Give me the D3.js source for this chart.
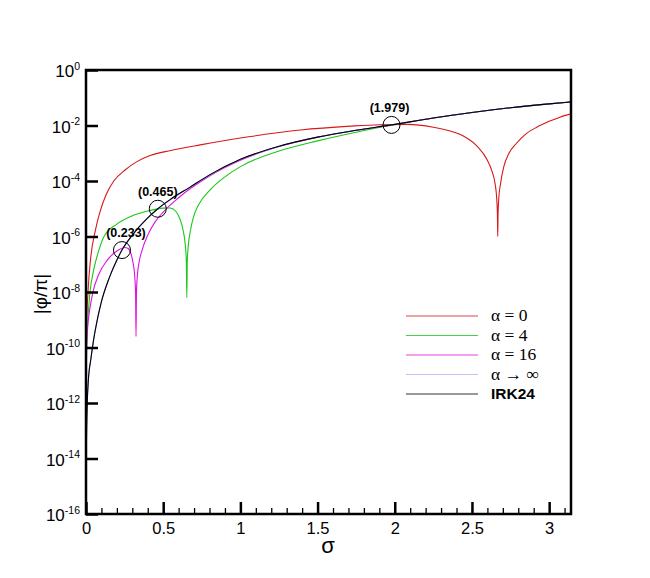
<!DOCTYPE html>
<html>
<head>
<meta charset="utf-8">
<script src="https://cdnjs.cloudflare.com/ajax/libs/d3/7.8.5/d3.min.js"></script>
<style>
  body { margin: 0; background: #fff; }
</style>
</head>
<body>
<div id="chart"></div>
<script>
// DATA

// alpha = 0
var redSigma = [0.001, 0.004, 0.013, 0.03, 0.06, 0.091, 0.13, 0.18, 0.253, 0.33, 0.415, 0.55, 0.74, 1.064, 1.389, 1.714, 1.9, 2.08, 2.25, 2.36, 2.45, 2.534, 2.6, 2.63, 2.65, 2.66, 2.665, 2.667, 2.669, 2.674, 2.685, 2.706, 2.74, 2.79, 2.85, 2.92, 3.0, 3.07, 3.1416];
var redPhi = [1e-11, 6.3e-10, 1e-8, 1.6e-7, 1.6e-6, 7.9e-6, 3.2e-5, 1e-4, 2.5e-4, 5e-4, 8.3e-4, 1.26e-3, 2.0e-3, 4.0e-3, 6.9e-3, 9.5e-3, 1.07e-2, 1.1e-2, 8.7e-3, 6.3e-3, 4.0e-3, 1.78e-3, 5.6e-4, 2.24e-4, 7.9e-5, 2.5e-5, 6.3e-6, 1e-6, 6.3e-6, 2.5e-5, 7.9e-5, 3.2e-4, 1e-3, 2.34e-3, 5.0e-3, 8.7e-3, 1.41e-2, 2.0e-2, 2.63e-2];

// alpha = 4
var greenSigma = [0.001, 0.004, 0.01, 0.026, 0.05, 0.08, 0.117, 0.2, 0.3, 0.4, 0.5, 0.545, 0.58, 0.61, 0.63, 0.643, 0.65, 0.653, 0.656, 0.663, 0.676, 0.696, 0.73, 0.804, 0.9, 1.0, 1.25, 1.5, 1.75, 1.979, 2.25, 2.5, 2.75, 3.0, 3.1416];
var greenPhi = [3.2e-12, 1e-10, 6.3e-10, 1e-8, 6.3e-8, 2.8e-7, 1e-6, 2.8e-6, 5.6e-6, 8.3e-6, 1.05e-5, 1.07e-5, 8.3e-6, 4.0e-6, 1.58e-6, 5.0e-7, 1.26e-7, 6.3e-9, 1.26e-7, 5.0e-7, 1.58e-6, 5.0e-6, 1.41e-5, 4.8e-5, 1.41e-4, 3.3e-4, 1.2e-3, 2.8e-3, 5.75e-3, 1.02e-2, 1.86e-2, 2.95e-2, 4.37e-2, 6.03e-2, 7.08e-2];

// alpha = 16
var magSigma = [0.001, 0.004, 0.012, 0.025, 0.045, 0.08, 0.138, 0.2, 0.25, 0.27, 0.29, 0.305, 0.315, 0.321, 0.324, 0.327, 0.333, 0.343, 0.36, 0.4, 0.45, 0.5, 0.6, 0.8, 1.0, 1.25, 1.5, 1.75, 1.979, 2.25, 2.5, 2.75, 3.0, 3.1416];
var magPhi = [6.3e-12, 1e-10, 6.3e-10, 2.5e-9, 1e-8, 4.0e-8, 1.41e-7, 3.0e-7, 4.0e-7, 3.8e-7, 2.5e-7, 1.12e-7, 4.0e-8, 1e-8, 2.5e-10, 1e-8, 4.0e-8, 1.12e-7, 2.8e-7, 1.12e-6, 3.5e-6, 7.6e-6, 2.5e-5, 1.51e-4, 5.6e-4, 1.74e-3, 3.8e-3, 6.7e-3, 1.05e-2, 1.86e-2, 2.95e-2, 4.37e-2, 6.03e-2, 7.08e-2];

// alpha -> infinity
var blueSigma = [0.001, 0.004, 0.008, 0.015, 0.032, 0.05, 0.075, 0.1, 0.15, 0.2, 0.233, 0.3, 0.4, 0.465, 0.55, 0.674, 0.8, 1.0, 1.25, 1.5, 1.75, 1.979, 2.25, 2.5, 2.75, 3.0, 3.1416];
var bluePhi = [6.3e-15, 1.26e-13, 1e-12, 6.3e-12, 4.0e-11, 2.0e-10, 1.12e-9, 4.5e-9, 3.16e-8, 1.41e-7, 3.24e-7, 1.12e-6, 4.68e-6, 9.8e-6, 2.2e-5, 5.9e-5, 1.62e-4, 5.9e-4, 1.75e-3, 3.75e-3, 6.7e-3, 1.05e-2, 1.86e-2, 2.95e-2, 4.37e-2, 6.03e-2, 7.08e-2];

// IRK24
var blackSigma = [0.001, 0.004, 0.008, 0.015, 0.032, 0.05, 0.075, 0.1, 0.15, 0.2, 0.233, 0.3, 0.4, 0.465, 0.55, 0.674, 0.8, 1.0, 1.25, 1.5, 1.75, 1.979, 2.25, 2.5, 2.75, 3.0, 3.1416];
var blackPhi = [6.3e-15, 1.26e-13, 1e-12, 6.3e-12, 4.0e-11, 2.0e-10, 1.12e-9, 4.5e-9, 3.16e-8, 1.41e-7, 3.24e-7, 1.12e-6, 4.68e-6, 1.0e-5, 2.24e-5, 6.03e-5, 1.66e-4, 6.03e-4, 1.78e-3, 3.8e-3, 6.76e-3, 1.05e-2, 1.86e-2, 2.95e-2, 4.37e-2, 6.03e-2, 7.08e-2];

// marked crossing points
var markSigma = [0.233, 0.465, 1.979];
var markPhi = [3.24e-7, 1.0e-5, 1.05e-2];
var markLabels = ["(0.233)", "(0.465)", "(1.979)"];

// ticks
var xMajor = [0, 0.5, 1, 1.5, 2, 2.5, 3];
var xMajorLabels = ["0", "0.5", "1", "1.5", "2", "2.5", "3"];
var xMinor = d3.range(0, 32).map(function(i) { return i / 10; });
var yExponents = [0, -2, -4, -6, -8, -10, -12, -14, -16];

var legendLabels = ["\u03b1 = 0", "\u03b1 = 4", "\u03b1 = 16", "\u03b1 \u2192 \u221e", "IRK24"];

// SETUP

var width = 650;
var height = 578;
var plotLeft = 86, plotRight = 571, plotTop = 70, plotBottom = 514;
var sansFont = "Liberation Sans, Arial, sans-serif";
var serifFont = "Liberation Serif, DejaVu Serif, serif";

var svg = d3.select("#chart")
    .append("svg")
    .attr("width", width)
    .attr("height", height)
    .attr("font-family", sansFont);

var xScale = d3.scaleLinear().domain([0, Math.PI]).range([plotLeft, plotRight]);
var yScale = d3.scaleLog().domain([1e-16, 1]).range([plotBottom, plotTop]);

svg.append("clipPath").attr("id", "plotClip")
    .append("rect")
    .attr("x", plotLeft).attr("y", plotTop)
    .attr("width", plotRight - plotLeft).attr("height", plotBottom - plotTop);

// CURVES

var series = [
    { s: redSigma, v: redPhi, color: "#d81818" },
    { s: greenSigma, v: greenPhi, color: "#18c818" },
    { s: magSigma, v: magPhi, color: "#e010e0" },
    { s: blueSigma, v: bluePhi, color: "#9090ff" },
    { s: blackSigma, v: blackPhi, color: "#000000" }
];

var line = d3.line()
    .x(function(d) { return xScale(d[0]); })
    .y(function(d) { return yScale(d[1]); })
    .curve(d3.curveMonotoneX);

var curves = svg.append("g").attr("clip-path", "url(#plotClip)");
series.forEach(function(ser) {
    var pts = ser.s.map(function(s, i) { return [s, ser.v[i]]; });
    curves.append("path")
        .attr("d", line(pts))
        .attr("fill", "none")
        .attr("stroke", ser.color)
        .attr("stroke-width", 1.1);
});

// circles with labels
markSigma.forEach(function(s, i) {
    var cx = xScale(s), cy = yScale(markPhi[i]);
    svg.append("circle")
        .attr("cx", cx).attr("cy", cy).attr("r", 8.5)
        .attr("fill", "none").attr("stroke", "#000").attr("stroke-width", 1);
    svg.append("text")
        .attr("x", cx + (i === 0 ? 4 : (i === 2 ? -2 : 0)))
        .attr("y", cy - 13)
        .attr("text-anchor", "middle")
        .attr("font-size", 12.5)
        .attr("font-weight", "bold")
        .text(markLabels[i]);
});

// AXES

var xAxisMinor = d3.axisBottom(xScale).tickValues(xMinor).tickSize(-6).tickFormat("");
svg.append("g")
    .attr("transform", "translate(0," + plotBottom + ")")
    .call(xAxisMinor)
    .call(function(g) {
        g.select(".domain").remove();
        g.selectAll("line").attr("stroke-width", 1.3);
    });

var xAxis = d3.axisBottom(xScale)
    .tickValues(xMajor)
    .tickSize(-12)
    .tickPadding(8)
    .tickFormat(function(d, i) { return xMajorLabels[i]; });
svg.append("g")
    .attr("transform", "translate(0," + plotBottom + ")")
    .call(xAxis)
    .call(function(g) {
        g.select(".domain").remove();
        g.attr("font-family", sansFont).attr("font-size", 16.5);
        g.selectAll("line").attr("stroke-width", 2.5);
        g.selectAll("text").attr("fill", "#000");
    });

var yAxis = d3.axisLeft(yScale)
    .tickValues(yExponents.map(function(e) { return Math.pow(10, e); }))
    .tickSize(-12)
    .tickFormat("");
svg.append("g")
    .attr("transform", "translate(" + plotLeft + ",0)")
    .call(yAxis)
    .call(function(g) {
        g.select(".domain").remove();
        g.selectAll("line").attr("stroke-width", 2.5);
    });

// y tick labels with superscripts
yExponents.forEach(function(e) {
    var t = svg.append("text")
        .attr("x", plotLeft - 6)
        .attr("y", yScale(Math.pow(10, e)) + 7)
        .attr("text-anchor", "end")
        .attr("font-size", 17);
    t.append("tspan").text("10");
    t.append("tspan")
        .attr("font-size", 10.5)
        .attr("dy", -7.5)
        .text(e === 0 ? "0" : "-" + Math.abs(e));
});

// frame
svg.append("rect")
    .attr("x", plotLeft).attr("y", plotTop)
    .attr("width", plotRight - plotLeft).attr("height", plotBottom - plotTop)
    .attr("fill", "none")
    .attr("stroke", "#000")
    .attr("stroke-width", 2.5);

// axis titles
svg.append("text")
    .attr("x", 328).attr("y", 553)
    .attr("text-anchor", "middle")
    .attr("font-size", 22)
    .text("\u03c3");

svg.append("text")
    .attr("transform", "translate(47,294) rotate(-90)")
    .attr("text-anchor", "middle")
    .attr("font-size", 19)
    .text("|\u03c6/\u03c0|");

// LEGEND

var legend = svg.append("g");
series.forEach(function(ser, i) {
    var ly = 316 + i * 19.5;
    legend.append("line")
        .attr("x1", 406).attr("x2", 478)
        .attr("y1", ly).attr("y2", ly)
        .attr("stroke", ser.color)
        .attr("stroke-width", 1)
        .attr("opacity", i === 3 ? 0.55 : 0.8);
    var lt = legend.append("text")
        .attr("x", 491)
        .attr("y", ly + 5)
        .text(legendLabels[i]);
    if (i === 4) {
        lt.attr("font-weight", "bold").attr("font-size", 15.5);
    } else {
        lt.attr("font-family", serifFont).attr("font-size", 17.5);
    }
});
</script>
</body>
</html>
